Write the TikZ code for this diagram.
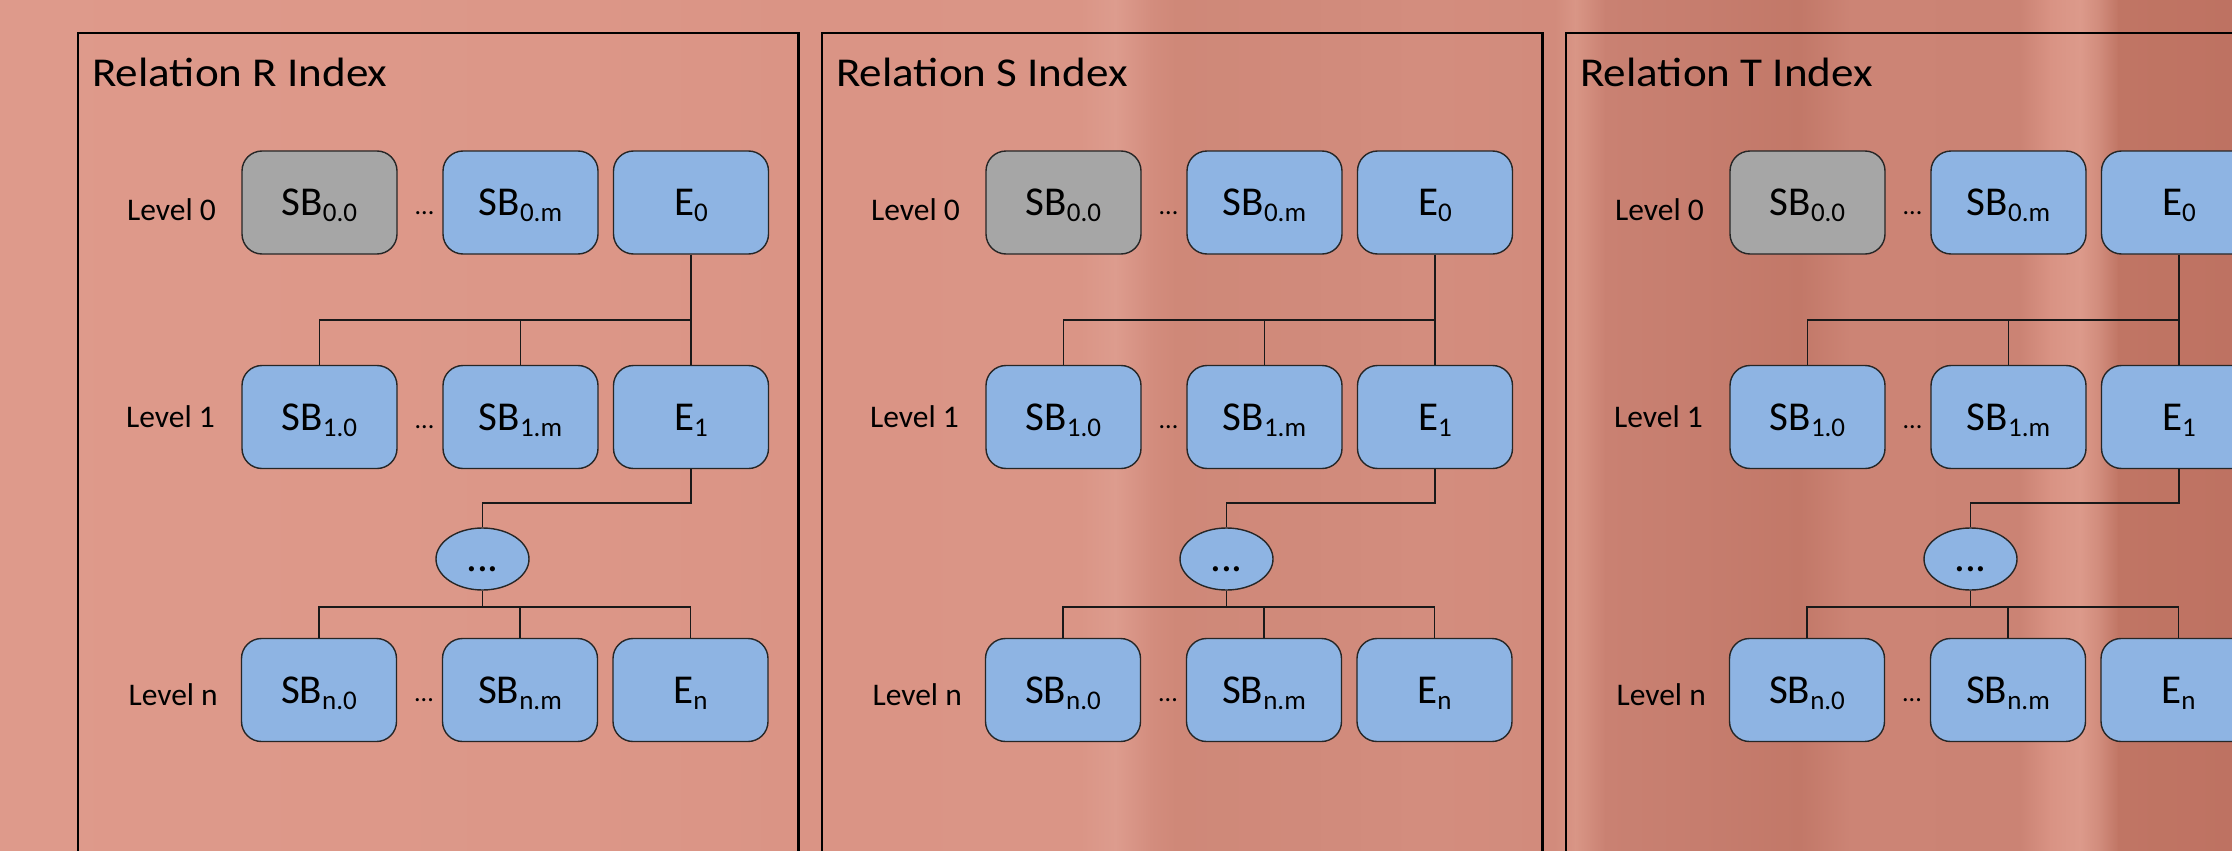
\documentclass[tikz,border=0pt]{standalone}
\usepackage{fontspec}
\setmainfont{Carlito}
\usetikzlibrary{shapes.geometric,calc}

\definecolor{boxblue}{HTML}{8EB4E3}
\definecolor{boxgray}{HTML}{A6A6A6}
\definecolor{edgecol}{HTML}{262626}
\definecolor{bga}{HTML}{DE9A8B}
\definecolor{bgb}{HTML}{DC9788}
\definecolor{bgc}{HTML}{DA9485}
\definecolor{bgd}{HTML}{DA9586}
\definecolor{bge}{HTML}{DD9C8E}
\definecolor{bgf}{HTML}{D38D7E}
\definecolor{bgg}{HTML}{CF8878}
\definecolor{bgh}{HTML}{D08A7B}
\definecolor{bgi}{HTML}{D38D7E}
\definecolor{bgj}{HTML}{D28B7C}
\definecolor{bgk}{HTML}{D99686}
\definecolor{bgl}{HTML}{C98172}
\definecolor{bgm}{HTML}{C67D6E}
\definecolor{bgn}{HTML}{C27868}
\definecolor{bgo}{HTML}{CC8475}
\definecolor{bgp}{HTML}{CB8374}
\definecolor{bgq}{HTML}{D99384}
\definecolor{bgr}{HTML}{DC9A8B}
\definecolor{bgs}{HTML}{D08B7B}
\definecolor{bgt}{HTML}{C07564}
\definecolor{bgu}{HTML}{BE7262}

\newcommand\sblab[2]{{\fontsize{41}{41}\selectfont #1}{\fontsize{27}{27}\selectfont\raisebox{-6pt}{#2}}}

\tikzset{
  sbbox/.style={draw=edgecol, line width=1.4pt, rounded corners=20pt,
    minimum width=155pt, minimum height=103pt, inner sep=0pt, fill=boxblue,
    text height=26.5pt, text depth=0pt},
  graybox/.style={sbbox, fill=boxgray},
  lvl/.style={anchor=base east, inner sep=0pt, font=\fontsize{31.5}{32}\selectfont},
  gapdots/.style={anchor=base, inner sep=0pt, font=\fontsize{26}{26}\selectfont},
  dotell/.style={ellipse, draw=edgecol, line width=1.4pt, fill=boxblue,
    minimum width=93pt, minimum height=62pt, inner sep=0pt,
    text height=24pt, text depth=0pt, font=\fontsize{43}{43}\selectfont},
  conn/.style={draw=black!90, line width=1.6pt},
  thickconn/.style={draw=black!90, line width=2.6pt},
  panelframe/.style={draw=black, line width=2.2pt},
  ptitle/.style={anchor=base west, inner sep=0pt, font=\fontsize{41}{42}\selectfont},
}

\newcommand\drawpanel[2]{%
\begin{scope}[xshift=#1pt]
  \draw[panelframe] (78,33) rectangle (798.5,1000);
  \node[ptitle] (#2title) at (92,86.7) {\scalebox{1.1}[1]{Relation #2 Index}};
  % level 0
  \node[lvl] (#2lv0) at (216,220.5) {Level 0};
  \node[graybox] (#2sb00) at (319.5,202.5) {\sblab{SB}{0.0}};
  \node[gapdots] (#2g0) at (424.5,214) {...};
  \node[sbbox] (#2sb0m) at (520.5,202.5) {\sblab{SB}{0.m}};
  \node[sbbox] (#2e0) at (691,202.5) {\sblab{E}{0}};
  % level 1
  \node[lvl] (#2lv1) at (215,427) {Level 1};
  \node[sbbox] (#2sb10) at (319.5,417) {\sblab{SB}{1.0}};
  \node[gapdots] (#2g1) at (424.5,428) {...};
  \node[sbbox] (#2sb1m) at (520.5,417) {\sblab{SB}{1.m}};
  \node[sbbox] (#2e1) at (691,417) {\sblab{E}{1}};
  % ellipsis
  \node[dotell] (#2dots) at (482.5,559) {...};
  % level n
  \node[lvl] (#2lvn) at (218,705) {Level n};
  \node[sbbox] (#2sbn0) at (319,690) {\sblab{SB}{n.0}};
  \node[gapdots] (#2gn) at (424,701) {...};
  \node[sbbox] (#2sbnm) at (520,690) {\sblab{SB}{n.m}};
  \node[sbbox] (#2en) at (690.5,690) {\sblab{E}{n}};
  % connectors
  \coordinate (#2b0) at (691,320);
  \coordinate (#2b1) at (691,503);
  \coordinate (#2b2) at (482.5,607);
  \draw[thickconn] (#2e0.south) -- (#2b0);
  \draw[conn] (#2b0) -- (#2e1.north);
  \draw[conn] (#2sb10.north) |- (#2b0);
  \draw[conn] (#2sb1m.north) -- (#2sb1m.north |- #2b0);
  \draw[conn] (#2e1.south) |- (#2dots.north |- #2b1) -- (#2dots.north);
  \draw[conn] (#2dots.south) -- (#2b2);
  \draw[conn] (#2sbn0.north) |- (#2en.north |- #2b2) -- (#2en.north);
  \draw[conn] (#2sbnm.north) -- (#2sbnm.north |- #2b2);
\end{scope}}

\begin{document}
\begin{tikzpicture}[x=1pt,y=-1pt]
  \useasboundingbox (0,0) rectangle (2232,851);
  \clip (0,0) rectangle (2232,851);
  % background
  \shade[left color=bga, right color=bgb] (0,-2) rectangle (561,853);
  \shade[left color=bgb, right color=bgc] (560,-2) rectangle (801,853);
  \shade[left color=bgc, right color=bgd] (800,-2) rectangle (1081,853);
  \shade[left color=bgd, right color=bge] (1080,-2) rectangle (1116,853);
  \shade[left color=bge, right color=bgf] (1115,-2) rectangle (1151,853);
  \shade[left color=bgf, right color=bgg] (1150,-2) rectangle (1176,853);
  \shade[left color=bgg, right color=bgh] (1175,-2) rectangle (1301,853);
  \shade[left color=bgh, right color=bgi] (1300,-2) rectangle (1421,853);
  \shade[left color=bgi, right color=bgj] (1420,-2) rectangle (1556,853);
  \shade[left color=bgj, right color=bgk] (1555,-2) rectangle (1576,853);
  \shade[left color=bgk, right color=bgl] (1575,-2) rectangle (1606,853);
  \shade[left color=bgl, right color=bgm] (1605,-2) rectangle (1701,853);
  \shade[left color=bgm, right color=bgn] (1700,-2) rectangle (1801,853);
  \shade[left color=bgn, right color=bgo] (1800,-2) rectangle (1851,853);
  \shade[left color=bgo, right color=bgp] (1850,-2) rectangle (2021,853);
  \shade[left color=bgp, right color=bgq] (2020,-2) rectangle (2051,853);
  \shade[left color=bgq, right color=bgr] (2050,-2) rectangle (2081,853);
  \shade[left color=bgr, right color=bgs] (2080,-2) rectangle (2101,853);
  \shade[left color=bgs, right color=bgt] (2100,-2) rectangle (2119,853);
  \shade[left color=bgt, right color=bgu] (2118,-2) rectangle (2234,853);
  % panels
  \drawpanel{0}{R}
  \drawpanel{744}{S}
  \drawpanel{1488}{T}
\end{tikzpicture}
\end{document}
